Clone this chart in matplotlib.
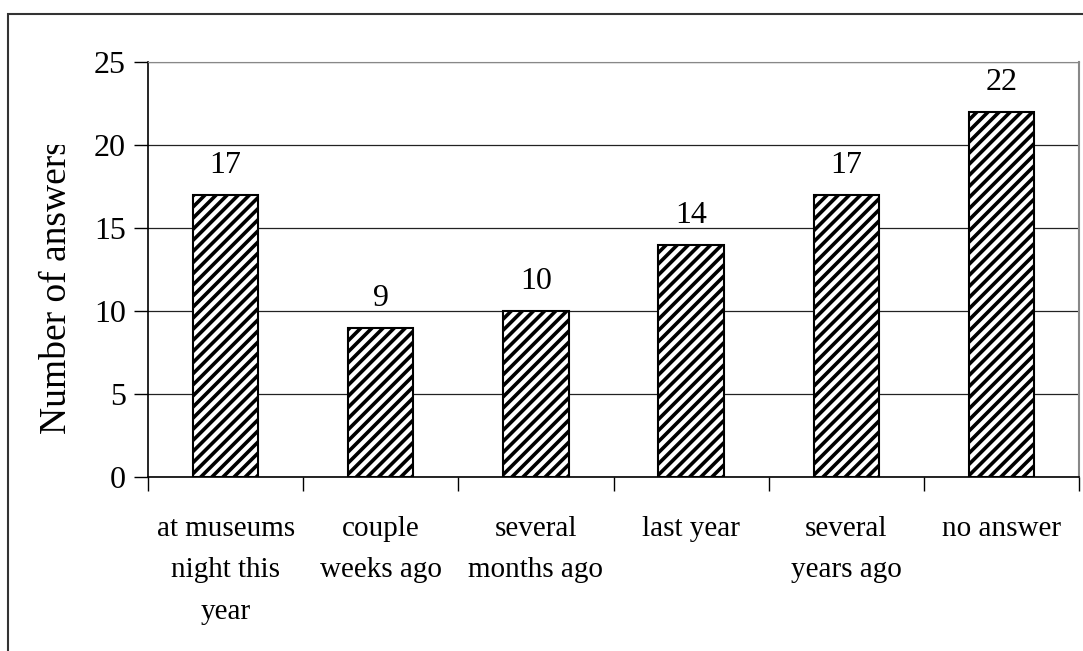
import numpy as np
import matplotlib.pyplot as plt
from matplotlib.patches import Rectangle
from matplotlib.transforms import Bbox

# Dados do gráfico
categories = ['at museums\nnight this\nyear', 'couple\nweeks ago', 'several\nmonths ago',
              'last year', 'several\nyears ago', 'no answer']
answers = [17, 9, 10, 14, 17, 22]

plt.rcParams['font.family'] = ['Liberation Serif', 'DejaVu Serif']
plt.rcParams['hatch.linewidth'] = 2.6

fig = plt.figure(figsize=(10.83, 6.51), dpi=100)
# borda externa do gráfico
fig.patches.append(Rectangle((8 / 1083, -0.05), 1.2, 1.05 - 14 / 651, transform=fig.transFigure,
                             fill=False, edgecolor='#333333', linewidth=1.5))

ax = fig.add_axes([148 / 1083, 1 - 477 / 651, (1079 - 148) / 1083, (477 - 62) / 651])
x = np.arange(len(categories))
bars = ax.bar(x, answers, width=0.42, color='white', edgecolor='black', hatch='///',
              linewidth=1.5, zorder=3)

for xi, v in zip(x, answers):
    ax.text(xi, v + 1.3, str(v), ha='center', va='baseline', fontsize=23)

ax.set_xlim(-0.5, len(categories) - 0.5)
ax.set_ylim(0, 25)
ax.set_yticks(range(0, 26, 5))
ax.tick_params(axis='y', labelsize=23, length=10, direction='out', width=1, pad=6)
ax.set_xticks(x)
ax.set_xticklabels(categories, fontsize=21, linespacing=1.78)
ax.tick_params(axis='x', length=0, pad=28)
ax.set_xticks(np.arange(-0.5, len(categories)), minor=True)
ax.tick_params(axis='x', which='minor', length=10, width=1)

ax.grid(axis='y', color='#222222', linewidth=0.9, zorder=0)
ax.spines['left'].set_linewidth(1.2)
ax.spines['bottom'].set_linewidth(1.2)
ax.spines['top'].set_color('#888888')
ax.spines['right'].set_color('#888888')
ax.spines['right'].set_linewidth(1.5)

# rótulo do eixo y (cortado no topo como no original)
ylab = fig.text(57 / 1083, 1 - 434 / 651, 'Number of answers', rotation=90,
                ha='center', va='bottom', fontsize=27)
ylab.set_clip_on(True)
ylab.set_clip_box(Bbox([[0, 0], [1083, 651 - 145]]))

plt.savefig('out.png', dpi=100)
